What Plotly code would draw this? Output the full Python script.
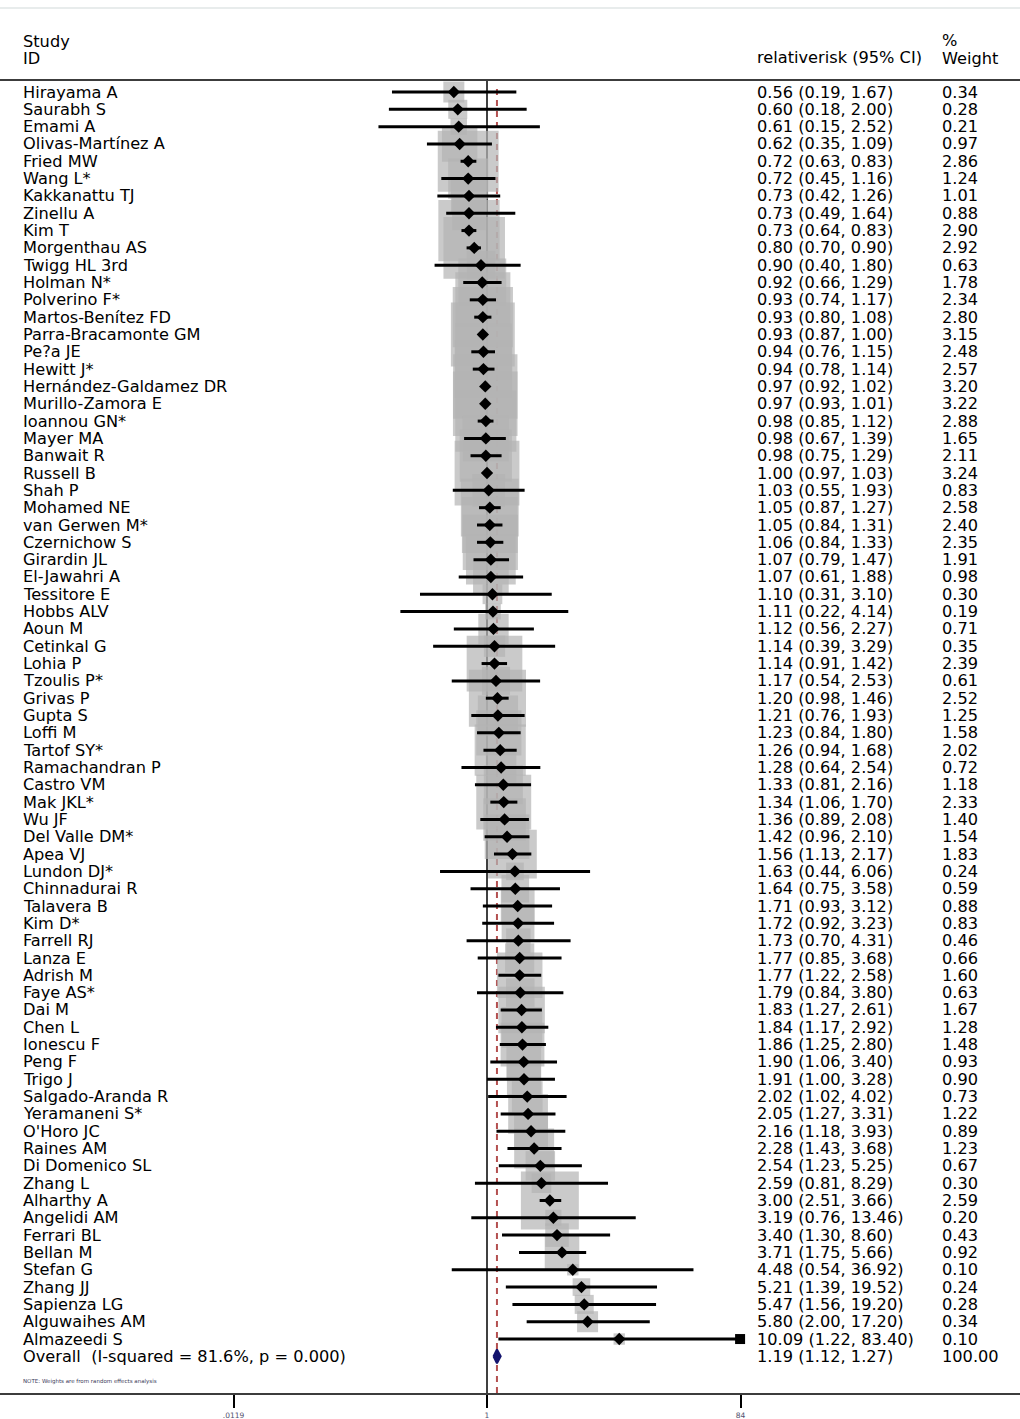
import math
import plotly.graph_objects as go

studies = ["Hirayama A", "Saurabh S", "Emami A", "Olivas-Martínez A", "Fried MW", "Wang L*",
           "Kakkanattu TJ", "Zinellu A", "Kim T", "Morgenthau AS", "Twigg HL 3rd", "Holman N*",
           "Polverino F*", "Martos-Benítez FD", "Parra-Bracamonte GM", "Pe?a JE", "Hewitt J*",
           "Hernández-Galdamez DR", "Murillo-Zamora E", "Ioannou GN*", "Mayer MA", "Banwait R",
           "Russell B", "Shah P", "Mohamed NE", "van Gerwen M*", "Czernichow S", "Girardin JL",
           "El-Jawahri A", "Tessitore E", "Hobbs ALV", "Aoun M", "Cetinkal G", "Lohia P",
           "Tzoulis P*", "Grivas P", "Gupta S", "Loffi M", "Tartof SY*", "Ramachandran P",
           "Castro VM", "Mak JKL*", "Wu JF", "Del Valle DM*", "Apea VJ", "Lundon DJ*",
           "Chinnadurai R", "Talavera B", "Kim D*", "Farrell RJ", "Lanza E", "Adrish M",
           "Faye AS*", "Dai M", "Chen L", "Ionescu F", "Peng F", "Trigo J", "Salgado-Aranda R",
           "Yeramaneni S*", "O'Horo JC", "Raines AM", "Di Domenico SL", "Zhang L", "Alharthy A",
           "Angelidi AM", "Ferrari BL", "Bellan M", "Stefan G", "Zhang JJ", "Sapienza LG",
           "Alguwaihes AM", "Almazeedi S"]

rr = [0.56, 0.60, 0.61, 0.62, 0.72, 0.72, 0.73, 0.73, 0.73, 0.80, 0.90, 0.92, 0.93, 0.93, 0.93,
      0.94, 0.94, 0.97, 0.97, 0.98, 0.98, 0.98, 1.00, 1.03, 1.05, 1.05, 1.06, 1.07, 1.07, 1.10,
      1.11, 1.12, 1.14, 1.14, 1.17, 1.20, 1.21, 1.23, 1.26, 1.28, 1.33, 1.34, 1.36, 1.42, 1.56,
      1.63, 1.64, 1.71, 1.72, 1.73, 1.77, 1.77, 1.79, 1.83, 1.84, 1.86, 1.90, 1.91, 2.02, 2.05,
      2.16, 2.28, 2.54, 2.59, 3.00, 3.19, 3.40, 3.71, 4.48, 5.21, 5.47, 5.80, 10.09]

ci_low = [0.19, 0.18, 0.15, 0.35, 0.63, 0.45, 0.42, 0.49, 0.64, 0.70, 0.40, 0.66, 0.74, 0.80, 0.87,
          0.76, 0.78, 0.92, 0.93, 0.85, 0.67, 0.75, 0.97, 0.55, 0.87, 0.84, 0.84, 0.79, 0.61, 0.31,
          0.22, 0.56, 0.39, 0.91, 0.54, 0.98, 0.76, 0.84, 0.94, 0.64, 0.81, 1.06, 0.89, 0.96, 1.13,
          0.44, 0.75, 0.93, 0.92, 0.70, 0.85, 1.22, 0.84, 1.27, 1.17, 1.25, 1.06, 1.00, 1.02, 1.27,
          1.18, 1.43, 1.23, 0.81, 2.51, 0.76, 1.30, 1.75, 0.54, 1.39, 1.56, 2.00, 1.22]

ci_high = [1.67, 2.00, 2.52, 1.09, 0.83, 1.16, 1.26, 1.64, 0.83, 0.90, 1.80, 1.29, 1.17, 1.08, 1.00,
           1.15, 1.14, 1.02, 1.01, 1.12, 1.39, 1.29, 1.03, 1.93, 1.27, 1.31, 1.33, 1.47, 1.88, 3.10,
           4.14, 2.27, 3.29, 1.42, 2.53, 1.46, 1.93, 1.80, 1.68, 2.54, 2.16, 1.70, 2.08, 2.10, 2.17,
           6.06, 3.58, 3.12, 3.23, 4.31, 3.68, 2.58, 3.80, 2.61, 2.92, 2.80, 3.40, 3.28, 4.02, 3.31,
           3.93, 3.68, 5.25, 8.29, 3.66, 13.46, 8.60, 5.66, 36.92, 19.52, 19.20, 17.20, 83.40]

weights = [0.34, 0.28, 0.21, 0.97, 2.86, 1.24, 1.01, 0.88, 2.90, 2.92, 0.63, 1.78, 2.34, 2.80, 3.15,
           2.48, 2.57, 3.20, 3.22, 2.88, 1.65, 2.11, 3.24, 0.83, 2.58, 2.40, 2.35, 1.91, 0.98, 0.30,
           0.19, 0.71, 0.35, 2.39, 0.61, 2.52, 1.25, 1.58, 2.02, 0.72, 1.18, 2.33, 1.40, 1.54, 1.83,
           0.24, 0.59, 0.88, 0.83, 0.46, 0.66, 1.60, 0.63, 1.67, 1.28, 1.48, 0.93, 0.90, 0.73, 1.22,
           0.89, 1.23, 0.67, 0.30, 2.59, 0.20, 0.43, 0.92, 0.10, 0.24, 0.28, 0.34, 0.10]

arrow_studies = ["Almazeedi S"]

overall_label = "Overall  (I-squared = 81.6%, p = 0.000)"
overall_rr = 1.19
overall_low = 1.12
overall_high = 1.27
overall_weight = "100.00"

tick_vals = [1 / 84, 1, 84]
tick_text = [".0119", "1", "84"]

FONT = "DejaVu Sans"
FS = 16.2
W, H = 1020, 1419
TOP, BOT = 81, 26          # plot area top / bottom margins (px)
ROW0, ROWH = 92, 17.32     # pixel centre of first row, row spacing
PLOT_H = H - TOP - BOT

def paper_y(px):
    return (H - BOT - px) / PLOT_H

n = len(studies)
rows = list(range(n))
overall_row = n

fig = go.Figure()

# weight boxes
fig.add_trace(go.Scatter(
    x=rr, y=rows, mode="markers", hoverinfo="skip",
    marker=dict(symbol="square", size=[36 * math.sqrt(w) for w in weights],
                color="rgb(180,180,180)", line=dict(width=0)),
))

# confidence intervals
cx, cy = [], []
for r, lo, hi in zip(rows, ci_low, ci_high):
    cx += [lo, hi, None]
    cy += [r, r, None]
fig.add_trace(go.Scatter(x=cx, y=cy, mode="lines", hoverinfo="skip",
                         line=dict(color="black", width=3)))

# arrow heads
ax = [ci_high[studies.index(s)] for s in arrow_studies]
ay = [studies.index(s) for s in arrow_studies]
fig.add_trace(go.Scatter(x=ax, y=ay, mode="markers", hoverinfo="skip",
                         marker=dict(symbol="square", size=10, color="black")))

# point estimates
fig.add_trace(go.Scatter(x=rr, y=rows, mode="markers", hoverinfo="skip",
                         marker=dict(symbol="diamond", size=9.5, color="black")))

# overall diamond
fig.add_trace(go.Scatter(
    x=[overall_low, overall_rr, overall_high, overall_rr, overall_low],
    y=[overall_row, overall_row - 0.4, overall_row, overall_row + 0.4, overall_row],
    mode="lines", fill="toself", fillcolor="rgb(20,20,110)", hoverinfo="skip",
    line=dict(color="rgb(20,20,110)", width=2),
))

# reference lines
fig.add_shape(type="line", xref="x", yref="paper", x0=1, x1=1, y0=0, y1=1,
              line=dict(color="black", width=1.5), layer="below")
fig.add_shape(type="line", xref="x", yref="paper", x0=overall_rr, x1=overall_rr,
              y0=0, y1=paper_y(84),
              line=dict(color="rgb(180,80,80)", width=2, dash="6px,5px"), layer="below")
# faint frame line at top
fig.add_shape(type="line", xref="paper", yref="paper", x0=0, x1=1,
              y0=paper_y(8), y1=paper_y(8), line=dict(color="rgb(232,236,236)", width=2))

ann = []
def txt(x_px, y, s, size=FS, yref="y", color="black"):
    ann.append(dict(x=x_px / W, xref="paper", y=y, yref=yref, text=s, showarrow=False,
                    xanchor="left", yanchor="middle",
                    font=dict(family=FONT, size=size, color=color)))

for r, s, e, lo, hi, w in zip(rows, studies, rr, ci_low, ci_high, weights):
    txt(21, r, s)
    txt(755, r, f"{e:.2f} ({lo:.2f}, {hi:.2f})")
    txt(940, r, f"{w:.2f}")
txt(21, overall_row, overall_label)
txt(755, overall_row, f"{overall_rr:.2f} ({overall_low:.2f}, {overall_high:.2f})")
txt(940, overall_row, overall_weight)

# headers
txt(21, paper_y(41.5), "Study", yref="paper")
txt(21, paper_y(59), "ID", yref="paper")
txt(755, paper_y(58), "relativerisk (95% CI)", yref="paper")
txt(940, paper_y(40.5), "%", yref="paper")
txt(940, paper_y(59), "Weight", yref="paper")
txt(21, paper_y(1381), "NOTE: Weights are from random effects analysis", size=5.5, yref="paper",
    color="rgb(60,60,90)")

k = 131.74
x_lo = -487 / k
x_hi = (W - 487) / k

fig.update_layout(
    width=W, height=H, autosize=False,
    margin=dict(l=0, r=0, t=TOP, b=BOT, pad=0, autoexpand=False),
    paper_bgcolor="white", plot_bgcolor="white",
    showlegend=False,
    annotations=ann,
    xaxis=dict(type="log", range=[x_lo, x_hi], showgrid=False, zeroline=False,
               automargin=False,
               showline=True, mirror=True, linecolor="rgb(60,60,60)", linewidth=2,
               tickvals=tick_vals, ticktext=tick_text, ticks="outside", ticklen=13,
               tickwidth=2, tickcolor="black", ticklabelstandoff=1,
               tickfont=dict(family=FONT, size=7.5, color="rgb(80,80,110)")),
    yaxis=dict(range=[(H - BOT - ROW0) / ROWH, (TOP - ROW0) / ROWH], showgrid=False,
               automargin=False,
               zeroline=False, showticklabels=False, showline=False, ticks=""),
)

fig.write_html("out.html", config={"displayModeBar": False},
               post_script="document.body.style.margin='0';")
